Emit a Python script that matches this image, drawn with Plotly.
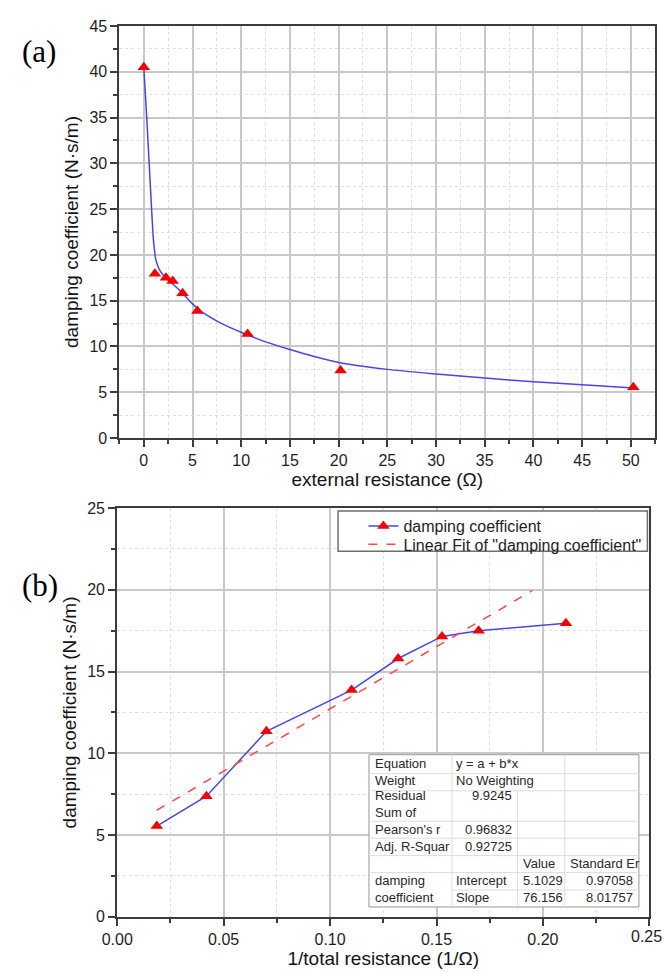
import plotly.graph_objects as go

W, H = 664, 972

# ---------------- data ----------------
# Panel (a): damping coefficient vs external resistance
ext_resistance = [0, 1.14, 2.28, 2.96, 3.98, 5.5, 10.66, 20.2, 50.25]
damping_a = [40.5, 17.95, 17.5, 17.15, 15.8, 13.87, 11.35, 7.38, 5.55]
# smooth fitted curve
curve_x = [0, 0.3, 0.55, 0.8, 1.0, 1.25, 1.6, 2.0, 2.5, 3.0, 4.0, 5.0, 6.0, 8.0,
           10.0, 12.5, 15, 17.5, 20, 25, 30, 35, 40, 45, 50.3]
curve_y = [40.5, 35, 30, 25, 21.5, 19.4, 18.4, 17.8, 17.25, 16.8, 15.8, 14.65, 13.75, 12.5,
           11.55, 10.5, 9.66, 8.9, 8.25, 7.5, 7.0, 6.55, 6.15, 5.82, 5.47]
xa_ticks = [0, 5, 10, 15, 20, 25, 30, 35, 40, 45, 50]
ya_ticks = [0, 5, 10, 15, 20, 25, 30, 35, 40, 45]

# Panel (b): damping coefficient vs 1/total resistance
inv_total_resistance = [0.0186, 0.0419, 0.0701, 0.1101, 0.132, 0.1526, 0.1698, 0.2108]
damping_b = [5.55, 7.38, 11.35, 13.87, 15.8, 17.15, 17.5, 17.95]
fit_intercept = 5.1029
fit_slope = 76.156
fit_x = [0.0186, 0.195]
fit_y = [fit_intercept + fit_slope * v for v in fit_x]
xb_ticks = [0.0, 0.05, 0.10, 0.15, 0.20, 0.25]
xb_labels = ["0.00", "0.05", "0.10", "0.15", "0.20", "0.25"]
yb_ticks = [0, 5, 10, 15, 20, 25]

# Fit table
table_col1 = ["Equation", "Weight", "Residual<br>Sum of", "Pearson's r", "Adj. R-Squar", "damping<br>coefficient"]
table_col2 = ["y = a + b*x", "No Weighting", "9.9245", "0.96832", "0.92725"]
table_param = ["Intercept", "Slope"]
table_value = ["5.1029", "76.156"]
table_stderr = ["0.97058", "8.01757"]

# ---------------- helpers ----------------
def PX(x):
    return x / W

def PY(y):
    return 1 - y / H

FONT = "Liberation Sans, Arial, sans-serif"
AXC = "rgb(60,60,60)"
GRID = "rgb(200,200,200)"
MGRID = "rgb(222,222,222)"
TICKFONT = dict(family=FONT, size=16, color="rgb(30,30,30)")

def axis(rng, tickvals, mdtick, title, domain, anchor, standoff, ticktext=None):
    d = dict(
        range=rng, tickmode="array", tickvals=tickvals, domain=domain, anchor=anchor,
        showline=True, linecolor=AXC, linewidth=2, mirror=True,
        ticks="outside", ticklen=7, tickwidth=1.5, tickcolor=AXC,
        tickfont=TICKFONT,
        showgrid=True, gridcolor=GRID, gridwidth=1.5,
        zeroline=False,
        minor=dict(dtick=mdtick, tick0=0, ticks="outside", ticklen=4, tickcolor=AXC,
                   showgrid=True, gridcolor=MGRID, griddash="dot", gridwidth=1),
        title=dict(text=title, font=dict(family=FONT, size=19, color="rgb(20,20,20)"),
                   standoff=standoff),
    )
    if ticktext is not None:
        d["ticktext"] = ticktext
    return d

fig = go.Figure()

BLUE = "rgb(70,70,235)"
RED = "rgb(245,0,0)"

# panel (a)
fig.add_trace(go.Scatter(x=curve_x, y=curve_y, mode="lines",
                         line=dict(color=BLUE, width=1.5, shape="spline", smoothing=0.6),
                         xaxis="x", yaxis="y", showlegend=False, hoverinfo="skip"))
fig.add_trace(go.Scatter(x=ext_resistance, y=damping_a, mode="markers",
                         marker=dict(symbol="triangle-up", size=11, color=RED),
                         xaxis="x", yaxis="y", showlegend=False))

# panel (b)
fig.add_trace(go.Scatter(x=inv_total_resistance, y=damping_b, mode="lines+markers", name="damping coefficient",
                         line=dict(color=BLUE, width=1.5),
                         marker=dict(symbol="triangle-up", size=11, color=RED),
                         xaxis="x2", yaxis="y2", legend="legend"))
fig.add_trace(go.Scatter(x=fit_x, y=fit_y, mode="lines", name='Linear Fit of "damping coefficient"',
                         line=dict(color="rgb(255,70,70)", width=1.5, dash="dash"),
                         xaxis="x2", yaxis="y2", legend="legend2"))

shapes = []
annotations = []

# legend box
shapes.append(dict(type="rect", xref="paper", yref="paper", x0=PX(330), x1=PX(647), y0=PY(553), y1=PY(512),
                   line=dict(color="rgb(110,110,110)", width=1.5), fillcolor="white", layer="above"))

# table box
tx = [361.7, 446.7, 514, 562.3, 638.3]
ty = [760, 779.3, 796.7, 827.7, 845, 862.7, 880, 897.7, 915]
shapes.append(dict(type="rect", xref="paper", yref="paper", x0=PX(tx[0]), x1=PX(tx[4]), y0=PY(ty[-1]), y1=PY(ty[0]),
                   line=dict(color="rgb(150,150,150)", width=1), fillcolor="white", layer="above"))
LC = "rgb(220,220,220)"
for yy in ty[1:-1]:
    x0 = tx[0] if yy != 897.7 else tx[1]
    shapes.append(dict(type="line", xref="paper", yref="paper", x0=PX(x0), x1=PX(tx[4]), y0=PY(yy), y1=PY(yy),
                       line=dict(color=LC, width=1), layer="above"))
shapes.append(dict(type="line", xref="paper", yref="paper", x0=PX(tx[1]), x1=PX(tx[1]), y0=PY(ty[0]), y1=PY(ty[-1]),
                   line=dict(color=LC, width=1), layer="above"))
shapes.append(dict(type="line", xref="paper", yref="paper", x0=PX(tx[2]), x1=PX(tx[2]), y0=PY(ty[2]), y1=PY(ty[-1]),
                   line=dict(color=LC, width=1), layer="above"))
shapes.append(dict(type="line", xref="paper", yref="paper", x0=PX(tx[3]), x1=PX(tx[3]), y0=PY(ty[0]), y1=PY(ty[-1]),
                   line=dict(color=LC, width=1), layer="above"))

TF = dict(family=FONT, size=13, color="rgb(40,40,40)")

def txt(x, y, s, anchor="left"):
    annotations.append(dict(xref="paper", yref="paper", x=PX(x), y=PY(y), text=s, showarrow=False,
                            xanchor=anchor, yanchor="middle", align=anchor, font=TF))

col1_y = [769.3, 786.7, 810, 836, 853.3, 896.5]
for s, yy in zip(table_col1, col1_y):
    txt(366, yy, s)
txt(449, 769.3, table_col2[0])
txt(449, 786.7, table_col2[1])
txt(510, 801.7, table_col2[2], "right")
txt(510, 836, table_col2[3], "right")
txt(510, 853.3, table_col2[4], "right")
txt(517, 870.7, "Value")
txt(566, 870.7, "Standard Er")
for s, yy in zip(table_param, [888.3, 905]):
    txt(449, yy, s)
for s, yy in zip(table_value, [888.3, 905]):
    txt(517, yy, s)
for s, yy in zip(table_stderr, [888.3, 905]):
    txt(634, yy, s, "right")

# last x tick label of panel (b) sits at the page edge (cut in the original);
# draw it right-anchored so it stays inside the page
annotations.append(dict(xref="paper", yref="paper", x=1, y=PY(934), text=xb_labels[-1], showarrow=False,
                        xanchor="right", yanchor="top", font=TICKFONT))

# panel labels
for lab, yy in [("(a)", 44), ("(b)", 588)]:
    annotations.append(dict(xref="paper", yref="paper", x=PX(4), y=PY(yy), text=lab, showarrow=False,
                            xanchor="left", yanchor="middle",
                            font=dict(family="Liberation Serif, Times New Roman, serif", size=31, color="black")))

LEGFONT = dict(family=FONT, size=16, color="rgb(30,30,30)")
layout = dict(
    width=W, height=H, margin=dict(l=0, r=0, t=0, b=0),
    paper_bgcolor="white", plot_bgcolor="white",
    xaxis=axis([-2.5, 52.5], xa_ticks, 2.5, "external resistance (\u03a9)", [PX(106), PX(655)], "y", 4),
    yaxis=axis([0, 45], ya_ticks, 2.5, "damping coefficient (N\u00b7s/m)", [PY(437.7), PY(18.3)], "x", 6),
    xaxis2=axis([0, 0.25], xb_ticks, 0.025, "1/total resistance (1/\u03a9)", [PX(103.7), PX(649)], "y2", 4,
                ticktext=xb_labels),
    yaxis2=axis([0, 25], yb_ticks, 2.5, "damping coefficient (N\u00b7s/m)", [PY(925), PY(509)], "x2", 6),
    legend=dict(x=PX(356), y=PY(510), xanchor="left", yanchor="top", bgcolor="rgba(0,0,0,0)",
                borderwidth=0, font=LEGFONT),
    legend2=dict(x=PX(356), y=PY(528.6), xanchor="left", yanchor="top", bgcolor="rgba(0,0,0,0)",
                 borderwidth=0, font=LEGFONT),
    shapes=shapes, annotations=annotations,
)
fig.update_layout(**layout)

fig.write_html("out.html")
